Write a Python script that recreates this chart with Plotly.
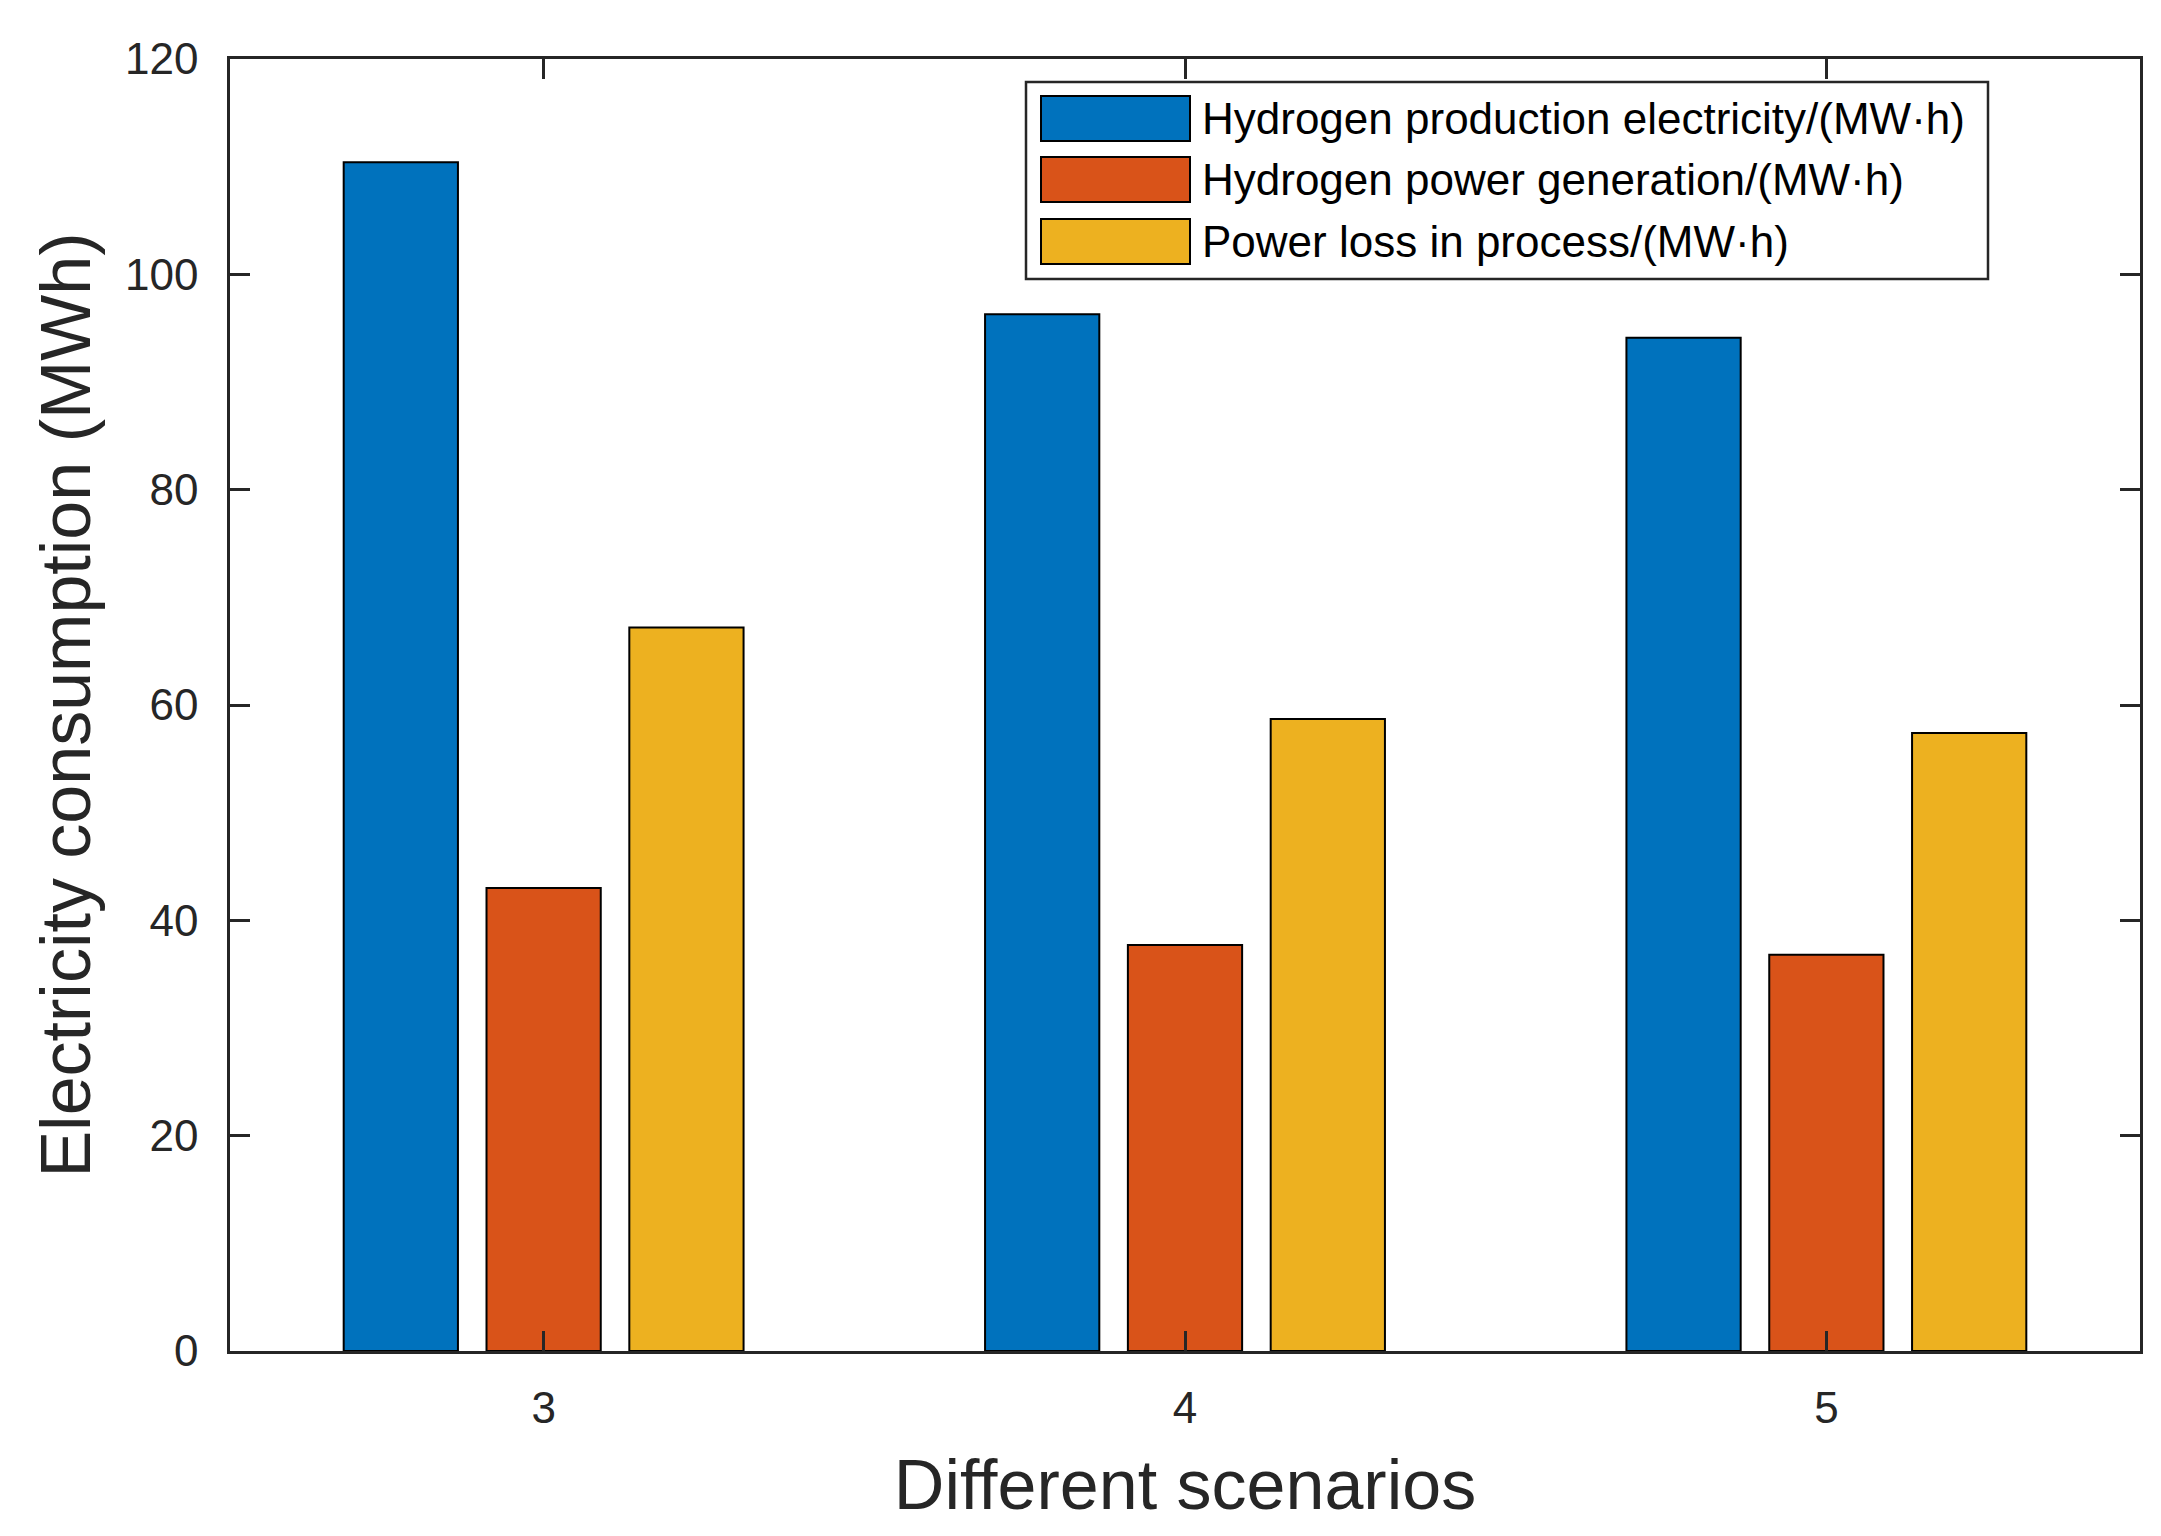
import plotly.graph_objects as go

# ---- data ----
scenarios = [3, 4, 5]
series_names = [
    "Hydrogen production electricity/(MW·h)",
    "Hydrogen power generation/(MW·h)",
    "Power loss in process/(MW·h)",
]
hydrogen_production = [110.4, 96.3, 94.1]
hydrogen_generation = [43.0, 37.7, 36.8]
power_loss = [67.2, 58.7, 57.4]
series_values = [hydrogen_production, hydrogen_generation, power_loss]
y_ticks = [0, 20, 40, 60, 80, 100, 120]

colors = ["#0072BD", "#D95319", "#EDB120"]
AX = "#262626"
FONT = "Liberation Sans, Arial, sans-serif"

W, H = 2161, 1536
L, R, T, B = 222, 2132, 51, 1343  # plot area in pixels


def px(x):
    return (x - L) / (R - L)


def py(y):
    return (B - y) / (B - T)


fig = go.Figure()
for name, vals, col in zip(series_names, series_values, colors):
    fig.add_trace(go.Bar(
        x=scenarios, y=vals, name=name,
        marker=dict(color=col, line=dict(color="#000000", width=2)),
        showlegend=False,
    ))

# custom legend (large swatches like the original)
shapes = [dict(type="rect", xref="paper", yref="paper",
               x0=px(1018), x1=px(1980), y0=py(271), y1=py(74),
               line=dict(color=AX, width=2.5), fillcolor="white", layer="above")]
annotations = []
row_tops = [88, 149, 211]
for i, (name, col) in enumerate(zip(series_names, colors)):
    y0 = row_tops[i]
    shapes.append(dict(type="rect", xref="paper", yref="paper",
                       x0=px(1033), x1=px(1182), y0=py(y0 + 45), y1=py(y0),
                       line=dict(color="#000000", width=2), fillcolor=col, layer="above"))
    annotations.append(dict(xref="paper", yref="paper", x=px(1192), y=py(y0 + 23),
                            xanchor="left", yanchor="middle", showarrow=False,
                            text=name, font=dict(family=FONT, size=44, color="#000000")))

fig.update_layout(
    width=W, height=H,
    margin=dict(l=L, r=W - R, t=T, b=H - B, pad=0),
    paper_bgcolor="white", plot_bgcolor="white",
    barmode="group", bargap=0.332, bargroupgap=0.2,
    font=dict(family=FONT, size=44, color=AX),
    shapes=shapes, annotations=annotations,
    xaxis=dict(
        range=[2.511, 5.489], tickmode="array", tickvals=scenarios,
        ticktext=[str(s) for s in scenarios],
        ticks="inside", ticklen=20, tickwidth=2.5, tickcolor=AX,
        showline=True, linecolor=AX, linewidth=2.5, mirror="ticks",
        showgrid=False, zeroline=False,
        tickfont=dict(family=FONT, size=44, color=AX),
        ticklabelstandoff=16,
        title=dict(text="Different scenarios", standoff=30,
                   font=dict(family=FONT, size=70, color=AX)),
    ),
    yaxis=dict(
        range=[0, 120], tickmode="array", tickvals=y_ticks,
        ticks="inside", ticklen=20, tickwidth=2.5, tickcolor=AX,
        showline=True, linecolor=AX, linewidth=2.5, mirror="ticks",
        showgrid=False, zeroline=False,
        tickfont=dict(family=FONT, size=44, color=AX),
        ticklabelstandoff=20,
        title=dict(text="Electricity consumption (MWh)", standoff=12,
                   font=dict(family=FONT, size=70, color=AX)),
    ),
)

fig.write_html("out.html")
